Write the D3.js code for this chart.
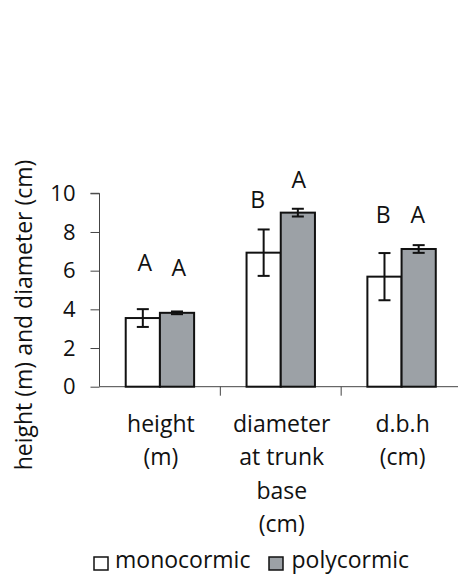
<!DOCTYPE html>
<html><head><meta charset="utf-8">
<script src="https://cdn.jsdelivr.net/npm/d3@7"></script>
<style>body{margin:0;background:#fff}svg{display:block}</style>
</head><body>
<script>
const categories = ["height|(m)", "diameter|at trunk|base|(cm)", "d.b.h|(cm)"];
const seriesNames = ["monocormic", "polycormic"];
const monoValues = [3.55, 6.93, 5.69];
const monoErrors = [0.46, 1.2, 1.22];
const polyValues = [3.82, 9.0, 7.12];
const polyErrors = [0.07, 0.2, 0.2];
const monoLetters = ["A", "B", "B"];
const polyLetters = ["A", "A", "A"];
const monoLetterAt = [5.97, 9.26, 8.45];
const polyLetterAt = [5.72, 10.29, 8.45];
const yTicks = [0, 2, 4, 6, 8, 10];
const yLabel = "height (m) and diameter (cm)";

const W = 458, H = 574;
const font = "'Open Sans', sans-serif";
const svg = d3.select("body").append("svg").attr("width", W).attr("height", H);

const x = d3.scaleBand().domain(categories).range([99.5, 462]).paddingInner(0).paddingOuter(0);
const y = d3.scaleLinear().domain([0, 10]).range([386.7, 193.3]);
const barW = x.bandwidth() * 0.283;
const fills = ["#ffffff", "#9ca1a6"];
// small horizontal nudges of the significance letters (px), as placed in the original
const letterDx = [[2, -6, -1.4], [1.7, 1, -1]];

const series = [
  {vals: monoValues, errs: monoErrors, letters: monoLetters, at: monoLetterAt},
  {vals: polyValues, errs: polyErrors, letters: polyLetters, at: polyLetterAt}
];

// axes
const yAxis = svg.append("g").attr("transform", "translate(99.5,0)")
  .call(d3.axisLeft(y).tickValues(yTicks).tickSize(9).tickPadding(15).tickFormat(d3.format("d")));
yAxis.selectAll("path,line").attr("stroke", "#444").attr("stroke-width", 1);
yAxis.select(".domain").attr("d", `M-9,${y(10)}H0V${y(0)}`);
yAxis.selectAll("text").attr("font-family", font).attr("font-size", 22).attr("fill", "#111");

const xa = svg.append("g").attr("transform", `translate(0,${y(0)})`);
xa.append("line").attr("x1", 99.5).attr("x2", 462).attr("stroke", "#444");
const bounds = categories.map(c => x(c)).concat([x.range()[1]]).slice(1);
xa.selectAll("line.t").data(bounds).join("line").attr("class", "t")
  .attr("x1", d => d).attr("x2", d => d).attr("y1", 0).attr("y2", 9).attr("stroke", "#444");

// bars
series.forEach((s, si) => {
  const g = svg.append("g");
  categories.forEach((c, i) => {
    const cx = x(c) + x.bandwidth() / 2;
    const bx = si === 0 ? cx - barW : cx;
    g.append("rect").attr("x", bx).attr("y", y(s.vals[i])).attr("width", barW)
      .attr("height", y(0) - y(s.vals[i])).attr("fill", fills[si]).attr("stroke", "#111").attr("stroke-width", 2);
    const ex = bx + barW / 2;
    const top = y(s.vals[i] + s.errs[i]), bot = y(s.vals[i] - s.errs[i]);
    g.append("line").attr("x1", ex).attr("x2", ex).attr("y1", top).attr("y2", bot).attr("stroke", "#111").attr("stroke-width", 2);
    [top, bot].forEach(yy => g.append("line").attr("x1", ex - 6).attr("x2", ex + 6).attr("y1", yy).attr("y2", yy).attr("stroke", "#111").attr("stroke-width", 2));
    g.append("text").attr("x", ex + letterDx[si][i]).attr("y", y(s.at[i])).attr("text-anchor", "middle")
      .attr("font-family", font).attr("font-size", 23).attr("fill", "#111").text(s.letters[i]);
  });
});

// x labels
categories.forEach(c => {
  const lines = c.split("|");
  const t = svg.append("text").attr("text-anchor", "middle").attr("font-family", font).attr("font-size", 23).attr("fill", "#111");
  lines.forEach((l, k) => t.append("tspan").attr("x", x(c) + x.bandwidth() / 2 + 1).attr("y", 431.7 + k * 33.4).text(l));
});

// y label
svg.append("text").attr("transform", `translate(32,315) rotate(-90)`).attr("text-anchor", "middle")
  .attr("font-family", font).attr("font-size", 23).attr("fill", "#111").text(yLabel);

// legend
const leg = [{x: 94, tx: 115}, {x: 269, tx: 291.5}];
seriesNames.forEach((n, i) => {
  svg.append("rect").attr("x", leg[i].x).attr("y", 557).attr("width", 14).attr("height", 13)
    .attr("fill", fills[i]).attr("stroke", "#111").attr("stroke-width", 1.5);
  svg.append("text").attr("x", leg[i].tx).attr("y", 568).attr("font-family", font).attr("font-size", 23).attr("fill", "#111").text(n);
});
</script>
</body></html>
